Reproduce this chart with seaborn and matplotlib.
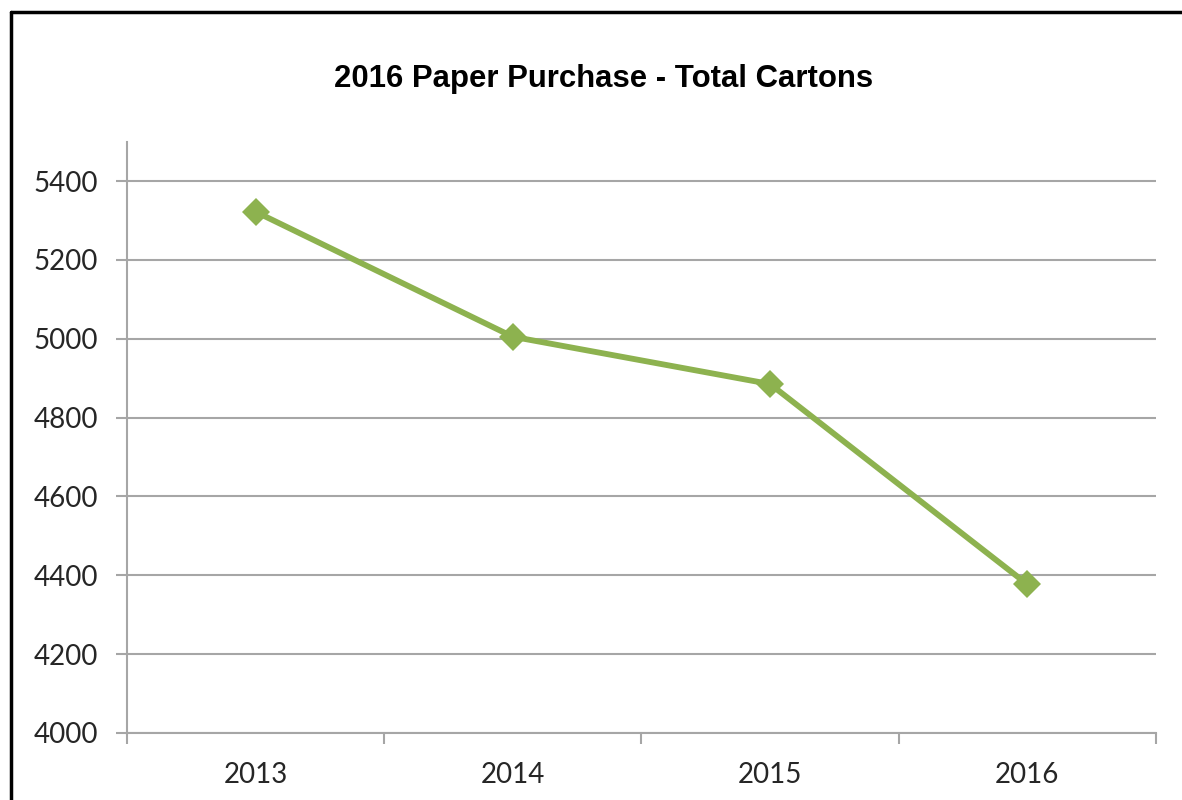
import matplotlib
matplotlib.use("Agg")
import matplotlib.pyplot as plt
import seaborn as sns
import pandas as pd
from matplotlib.lines import Line2D
from matplotlib.ticker import FixedLocator

years = ["2013", "2014", "2015", "2016"]
cartons = [5322, 5005, 4885, 4377]
y_ticks = [4000, 4200, 4400, 4600, 4800, 5000, 5200, 5400]
title = "2016 Paper Purchase - Total Cartons"

sns.set_theme(style="white")
plt.rcParams["font.family"] = ["Lato", "DejaVu Sans"]

df = pd.DataFrame({"Year": years, "Cartons": cartons})

fig = plt.figure(figsize=(11.82, 8.0), dpi=100)
ax = fig.add_axes([0.1074, 0.0838, 0.8706, 0.7392])

green = "#8DB24F"
grid_c = "#A6A6A6"

sns.lineplot(data=df, x="Year", y="Cartons", ax=ax, color=green, linewidth=4.2,
             marker="D", markersize=14, markeredgewidth=0, sort=False)

ax.set_xlim(-0.5, 3.5)
ax.set_ylim(4000, 5500)
ax.set_yticks(y_ticks)
ax.set_yticklabels([str(v) for v in y_ticks])
ax.set_xticks(range(len(years)))
ax.set_xticklabels(years)
ax.xaxis.set_minor_locator(FixedLocator([-0.5, 0.5, 1.5, 2.5, 3.5]))
ax.tick_params(axis="x", which="major", length=0, labelsize=20, colors="#262626", pad=21)
ax.tick_params(axis="x", which="minor", length=8, width=1.5, color=grid_c, direction="out", bottom=True)
ax.tick_params(axis="y", which="major", length=8, width=1.5, color=grid_c, labelsize=20,
               labelcolor="#262626", pad=13, left=True)
ax.set_xlabel("")
ax.set_ylabel("")
ax.grid(axis="y", color=grid_c, linewidth=1.5)
ax.set_axisbelow(True)
for s in ["top", "right"]:
    ax.spines[s].set_visible(False)
for s in ["left", "bottom"]:
    ax.spines[s].set_color(grid_c)
    ax.spines[s].set_linewidth(1.5)

fig.text(0.511, 0.901, title, ha="center", va="center", fontsize=22.4, fontweight="bold",
         family=["Liberation Sans", "DejaVu Sans"], color="black")

# outer frame (top and left edges)
fig.add_artist(Line2D([0.0093, 1.0], [0.985, 0.985], transform=fig.transFigure, color="black", linewidth=2.5))
fig.add_artist(Line2D([0.0093, 0.0093], [0.0, 0.985], transform=fig.transFigure, color="black", linewidth=2.5))

fig.savefig("out.png", dpi=100)
